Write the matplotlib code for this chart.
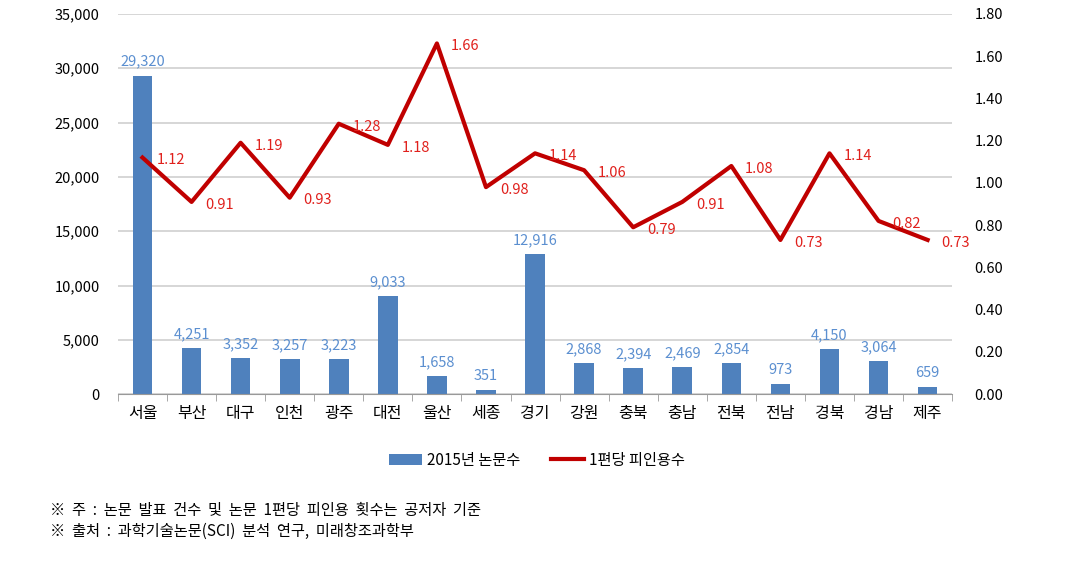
import matplotlib.pyplot as plt
from matplotlib.ticker import FuncFormatter, FixedLocator

plt.rcParams['font.family'] = ['Noto Sans CJK KR', 'DejaVu Sans']

regions = ['서울', '부산', '대구', '인천', '광주', '대전', '울산', '세종', '경기',
           '강원', '충북', '충남', '전북', '전남', '경북', '경남', '제주']
papers = [29320, 4251, 3352, 3257, 3223, 9033, 1658, 351, 12916,
          2868, 2394, 2469, 2854, 973, 4150, 3064, 659]
citations = [1.12, 0.91, 1.19, 0.93, 1.28, 1.18, 1.66, 0.98, 1.14,
             1.06, 0.79, 0.91, 1.08, 0.73, 1.14, 0.82, 0.73]

bar_color = '#4f81bd'
bar_text = '#5b8fd0'
line_color = '#c00000'

fig = plt.figure(figsize=(10.82, 5.78), dpi=100)
ax = fig.add_axes([0.109, 0.318, 0.771, 0.658])
x = list(range(len(regions)))

bars = ax.bar(x, papers, width=0.4, color=bar_color, zorder=2, label='2015년 논문수')
for xi, v in zip(x, papers):
    ax.annotate(f'{v:,}', (xi, v), xytext=(0, 5), textcoords='offset points',
                ha='center', va='bottom', fontsize=10.5, color=bar_text)

ax.set_ylim(0, 35000)
ax.set_xlim(-0.5, len(regions) - 0.5)
ax.set_yticks(range(0, 35001, 5000))
ax.yaxis.set_major_formatter(FuncFormatter(lambda v, p: f'{int(v):,}'))
ax.grid(axis='y', color='#d0d0d0', linewidth=1.2, zorder=0)
ax.set_axisbelow(True)
ax.set_xticks(x)
ax.set_xticklabels(regions, fontsize=11.5)
ax.tick_params(axis='x', length=0, pad=8)
ax.xaxis.set_minor_locator(FixedLocator([i - 0.5 for i in range(len(regions) + 1)]))
ax.tick_params(axis='x', which='minor', length=5, color='#999999', direction='out')
ax.tick_params(axis='y', length=0, labelsize=10.5, pad=13)
for s in ['top', 'right', 'left']:
    ax.spines[s].set_visible(False)
ax.spines['bottom'].set_color('#999999')

ax2 = ax.twinx()
line, = ax2.plot(x, citations, color=line_color, linewidth=3, zorder=3,
                 label='1편당 피인용수')
for xi, v in zip(x, citations):
    ax2.annotate(f'{v:.2f}', (xi, v), xytext=(10, -2), textcoords='offset points',
                 ha='left', va='center', fontsize=10.5, color='#e0201c')
ax2.set_ylim(0, 1.8)
ax2.set_yticks([i * 0.2 for i in range(10)])
ax2.yaxis.set_major_formatter(FuncFormatter(lambda v, p: f'{v:.2f}'))
ax2.tick_params(axis='y', length=0, labelsize=10.5, pad=16)
for s in ['top', 'right', 'left', 'bottom']:
    ax2.spines[s].set_visible(False)

fig.legend([bars, line], ['2015년 논문수', '1편당 피인용수'], loc='center',
           bbox_to_anchor=(0.496, 0.204), ncol=2, frameon=False, fontsize=11,
           handlelength=2.2, columnspacing=2.0, handletextpad=0.3)

fig.text(0.046, 0.116, '※  주  :  논문  발표  건수  및  논문  1편당  피인용  횟수는  공저자  기준',
         fontsize=11, va='center')
fig.text(0.046, 0.080, '※  출처  :  과학기술논문(SCI)  분석  연구,  미래창조과학부',
         fontsize=11, va='center')

fig.savefig('out.png', dpi=100)
